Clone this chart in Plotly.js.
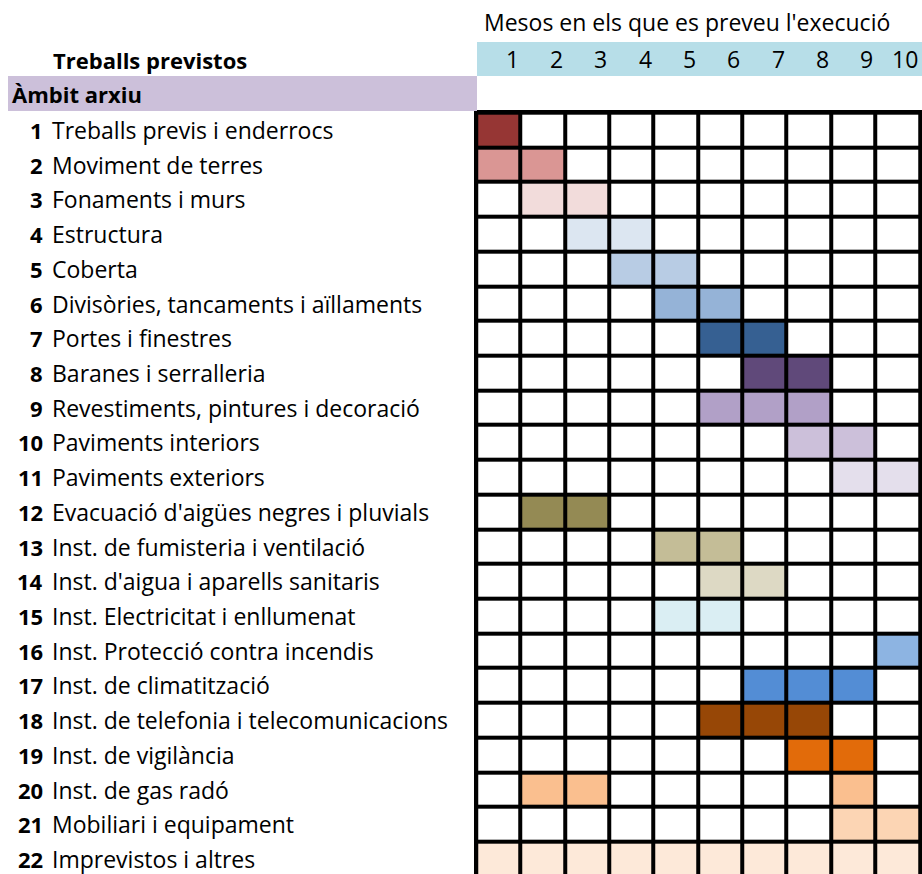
<!DOCTYPE html>
<html>
<head>
<meta charset="utf-8">
<script src="https://cdn.plot.ly/plotly-3.0.1.min.js"></script>
<style>html,body{margin:0;padding:0;background:#fff;}#chart{width:922px;height:874px;}</style>
</head>
<body>
<div id="chart"></div>
<script>
// ---- data ----
const monthLabels = ['1','2','3','4','5','6','7','8','9','10'];
const taskNumbers = ['1','2','3','4','5','6','7','8','9','10','11','12','13','14','15','16','17','18','19','20','21','22'];
const taskNames = [
  'Treballs previs i enderrocs',
  'Moviment de terres',
  'Fonaments i murs',
  'Estructura',
  'Coberta',
  'Divisòries, tancaments i aïllaments',
  'Portes i finestres',
  'Baranes i serralleria',
  'Revestiments, pintures i decoració',
  'Paviments interiors',
  'Paviments exteriors',
  "Evacuació d'aigües negres i pluvials",
  'Inst. de fumisteria i ventilació',
  "Inst. d'aigua i aparells sanitaris",
  'Inst. Electricitat i enllumenat',
  'Inst. Protecció contra incendis',
  'Inst. de climatització',
  'Inst. de telefonia i telecomunicacions',
  'Inst. de vigilància',
  'Inst. de gas radó',
  'Mobiliari i equipament',
  'Imprevistos i altres'
];
const taskMonths = [
  [1],
  [1,2],
  [2,3],
  [3,4],
  [4,5],
  [5,6],
  [6,7],
  [7,8],
  [6,7,8],
  [8,9],
  [9,10],
  [2,3],
  [5,6],
  [6,7],
  [5,6],
  [10],
  [7,8,9],
  [6,7,8],
  [8,9],
  [2,3,9],
  [9,10],
  [1,2,3,4,5,6,7,8,9,10]
];
const taskColors = [
  '#963634','#da9694','#f2dcdb','#dce6f1','#b8cce4','#95b3d7','#366092','#60497a',
  '#b1a0c7','#ccc0da','#e4dfec','#948a54','#c4bd97','#ddd9c4','#daeef3','#8db4e2',
  '#538dd5','#974706','#e26b0a','#fabf8f','#fcd5b4','#fde9d9'
];
const headerTitle = "Mesos en els que es preveu l'execució";
const leftTitle = 'Treballs previstos';
const sectionTitle = 'Àmbit arxiu';

// ---- build ----
const W = 922, H = 874;
const px = x => x / W;
const py = y => 1 - y / H;
const FONT = 'Open Sans';
const FS = 23;

const nT = taskNames.length;
const monthNums = monthLabels.map(Number);
const rowNums = taskNumbers.map(Number);
const z = taskMonths.map((ms, i) => monthNums.map(m => ms.includes(m) ? i + 1 : 0));
const colorscale = [[0, '#ffffff']].concat(taskColors.map((c, i) => [(i + 1) / nT, c]));

const trace = {
  type: 'heatmap',
  x: monthNums,
  y: rowNums,
  z: z,
  zmin: 0, zmax: nT,
  colorscale: colorscale,
  showscale: false,
  xgap: 4, ygap: 4,
  hoverinfo: 'skip'
};

const annotations = [];
annotations.push({xref:'paper', yref:'paper', x:px(482), y:py(22), xanchor:'left', yanchor:'middle',
  text: headerTitle, showarrow:false, font:{family:FONT, size:FS, color:'#000'}});
annotations.push({xref:'paper', yref:'paper', x:px(51), y:py(60), xanchor:'left', yanchor:'middle',
  text: '<b>' + leftTitle + '</b>', showarrow:false, font:{family:FONT, size:FS - 1, color:'#000'}});
annotations.push({xref:'paper', yref:'paper', x:px(10), y:py(94), xanchor:'left', yanchor:'middle',
  text: '<b>' + sectionTitle + '</b>', showarrow:false, font:{family:FONT, size:FS - 1, color:'#000'}});
monthLabels.forEach((m, i) => {
  annotations.push({xref:'x', yref:'paper', x:monthNums[i] + 0.5, y:py(59), xanchor:'right', yanchor:'middle',
    text: m, showarrow:false, font:{family:FONT, size:FS, color:'#000'}});
});
taskNames.forEach((name, i) => {
  annotations.push({xref:'paper', yref:'y', x:px(45), y:rowNums[i], xanchor:'right', yanchor:'middle',
    text: '<b>' + taskNumbers[i] + '</b>', showarrow:false, font:{family:FONT, size:FS - 1, color:'#000'}});
  annotations.push({xref:'paper', yref:'y', x:px(50), y:rowNums[i], xanchor:'left', yanchor:'middle',
    text: name, showarrow:false, font:{family:FONT, size:FS, color:'#000'}});
});

const shapes = [
  {type:'rect', xref:'paper', yref:'paper', x0:px(477), x1:px(922), y0:py(76), y1:py(42),
   fillcolor:'#b7dee8', line:{width:0}, layer:'below'},
  {type:'rect', xref:'paper', yref:'paper', x0:px(8), x1:px(477), y0:py(111), y1:py(76),
   fillcolor:'#ccc0da', line:{width:0}, layer:'below'}
];

const layout = {
  width: W, height: H,
  margin: {l:0, r:0, t:0, b:0, pad:0},
  paper_bgcolor: '#ffffff',
  plot_bgcolor: '#000000',
  showlegend: false,
  xaxis: {domain:[px(474), 1], range:[0.45, 10.55], showgrid:false, zeroline:false,
          showticklabels:false, ticks:'', fixedrange:true},
  yaxis: {domain:[0, py(110)], range:[22.43, 0.424], showgrid:false, zeroline:false,
          showticklabels:false, ticks:'', fixedrange:true},
  annotations: annotations,
  shapes: shapes
};

Plotly.newPlot('chart', [trace], layout, {displayModeBar:false, staticPlot:true});
</script>
</body>
</html>
